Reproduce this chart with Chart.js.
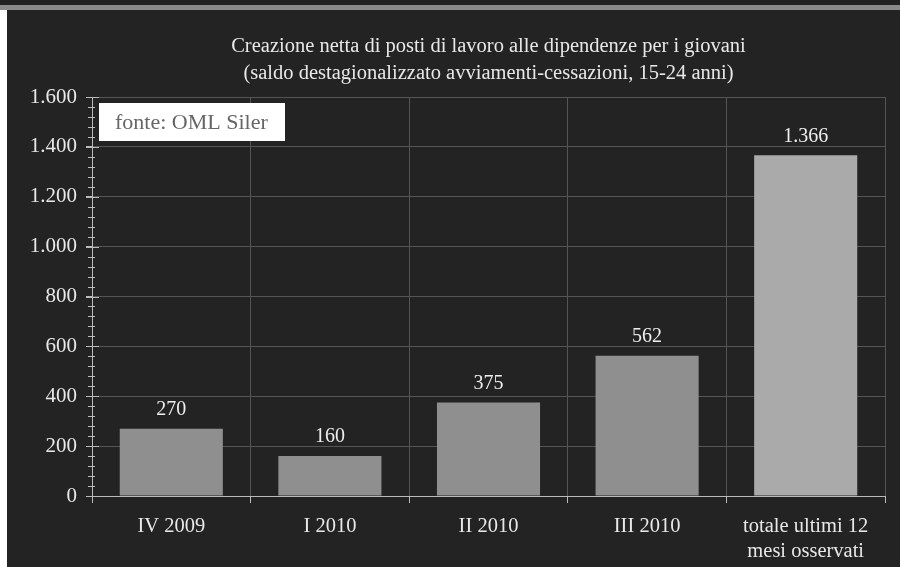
<!DOCTYPE html>
<html>
<head>
<meta charset="utf-8">
<script src="https://cdn.jsdelivr.net/npm/chart.js@4.4.0/dist/chart.umd.min.js"></script>
<style>
  html, body { margin: 0; padding: 0; background: #ffffff; }
  #top { position: absolute; left: 0; top: 0; width: 900px; height: 5px; background: #222222; }
  #strip { position: absolute; left: 0; top: 5px; width: 900px; height: 5px; background: #8a8a8a; }
  #wrap { position: absolute; left: 7px; top: 10px; width: 893px; height: 557px; background: #232323; }
</style>
</head>
<body>
<div id="top"></div>
<div id="strip"></div>
<div id="wrap"><canvas id="myChart" width="893" height="557"></canvas></div>
<script>
const categories = ['IV 2009', 'I 2010', 'II 2010', 'III 2010', ['totale ultimi 12', 'mesi osservati']];
const values = [270, 160, 375, 562, 1366];
const barColors = ['#8f8f8f', '#8f8f8f', '#8f8f8f', '#8f8f8f', '#aaaaaa'];
const titleLines = [
  'Creazione netta di posti di lavoro alle dipendenze per i giovani',
  '(saldo destagionalizzato avviamenti-cessazioni, 15-24 anni)'
];
const sourceNote = 'fonte: OML Siler';

const serif = '"Liberation Serif", "DejaVu Serif", serif';

function fmt(v) {
  return String(v).replace(/\B(?=(\d{3})+(?!\d))/g, '.');
}

// minor ticks on the y axis, value labels above the bars, source box
const extras = {
  id: 'extras',
  afterDatasetsDraw(chart) {
    const ctx = chart.ctx;
    const y = chart.scales.y;
    const area = chart.chartArea;
    ctx.save();
    ctx.strokeStyle = '#bbbbbb';
    ctx.lineWidth = 1;
    for (let v = 0; v <= 1600; v += 40) {
      const py = Math.round(y.getPixelForValue(v)) + 0.5;
      const major = v % 200 === 0;
      ctx.beginPath();
      ctx.moveTo(area.left - (major ? 6 : 4), py);
      ctx.lineTo(area.left + (major ? 7 : 3), py);
      ctx.stroke();
    }
    // value labels
    ctx.font = '20px ' + serif;
    ctx.fillStyle = '#eeeeee';
    ctx.textAlign = 'center';
    ctx.textBaseline = 'middle';
    const meta = chart.getDatasetMeta(0);
    meta.data.forEach((bar, i) => {
      ctx.fillText(fmt(values[i]), bar.x, bar.y - 19);
    });
    // source box
    const bx = area.left + 7, by = area.top + 6;
    ctx.fillStyle = '#ffffff';
    ctx.fillRect(bx, by, 186, 38);
    ctx.font = '22px ' + serif;
    ctx.fillStyle = '#666666';
    ctx.textAlign = 'left';
    ctx.fillText(sourceNote, bx + 16, by + 20);
    ctx.restore();
  }
};

const data = {
  labels: categories,
  datasets: [
    {
      data: values,
      backgroundColor: barColors,
      borderWidth: 0,
      barPercentage: 0.65,
      categoryPercentage: 1
    }
  ]
};

const config = {
  type: 'bar',
  data: data,
  plugins: [extras],
  options: {
    responsive: false,
    animation: false,
    layout: {
      padding: { left: 0, right: 15, top: 0, bottom: 0 }
    },
    plugins: {
      legend: { display: false },
      tooltip: { enabled: false },
      title: {
        display: true,
        fullSize: false,
        text: titleLines,
        color: '#e8e8e8',
        font: { family: serif, size: 20.5, weight: 'normal', lineHeight: '27px' },
        padding: { top: 23.5, bottom: 9.5 }
      }
    },
    scales: {
      x: {
        grid: {
          color: '#555555',
          drawTicks: true,
          tickLength: 7,
          tickColor: '#bbbbbb'
        },
        border: { color: '#bbbbbb', width: 1 },
        ticks: {
          color: '#e8e8e8',
          font: { family: serif, size: 20.5, lineHeight: '25px' },
          padding: 11.5,
          maxRotation: 0,
          autoSkip: false
        },
        afterFit(scale) { scale.height = 71; }
      },
      y: {
        min: 0,
        max: 1600,
        grid: {
          color: '#555555',
          drawTicks: true,
          tickLength: 6,
          tickColor: '#bbbbbb'
        },
        border: { color: '#bbbbbb', width: 1 },
        ticks: {
          stepSize: 200,
          color: '#e8e8e8',
          font: { family: serif, size: 21 },
          padding: 9,
          callback: (v) => fmt(v)
        },
        afterFit(scale) { scale.width = 85; }
      }
    }
  }
};

const ctx = document.getElementById('myChart');
new Chart(ctx, config);
</script>
</body>
</html>
